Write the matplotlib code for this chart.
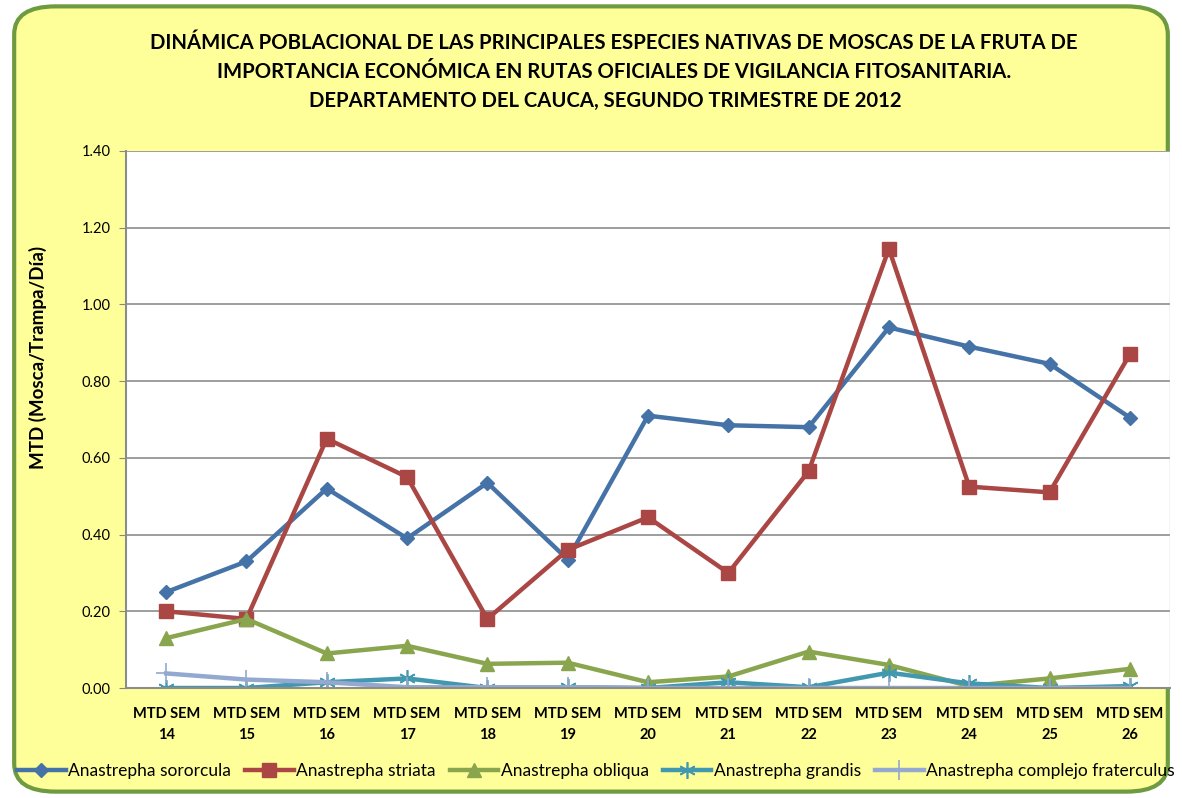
import matplotlib.pyplot as plt
from matplotlib.patches import FancyBboxPatch

semanas = ["MTD SEM\n14", "MTD SEM\n15", "MTD SEM\n16", "MTD SEM\n17", "MTD SEM\n18",
           "MTD SEM\n19", "MTD SEM\n20", "MTD SEM\n21", "MTD SEM\n22", "MTD SEM\n23",
           "MTD SEM\n24", "MTD SEM\n25", "MTD SEM\n26"]

sororcula = [0.25, 0.33, 0.52, 0.39, 0.535, 0.335, 0.71, 0.685, 0.68, 0.94, 0.89, 0.845, 0.705]
striata = [0.20, 0.18, 0.65, 0.55, 0.18, 0.36, 0.445, 0.30, 0.565, 1.145, 0.525, 0.51, 0.87]
obliqua = [0.13, 0.18, 0.09, 0.11, 0.063, 0.066, 0.015, 0.03, 0.095, 0.06, 0.005, 0.025, 0.05]
grandis = [0.0, 0.0, 0.015, 0.025, 0.0, 0.002, 0.0, 0.015, 0.002, 0.04, 0.012, 0.0, 0.005]
fraterculus = [0.038, 0.022, 0.015, 0.002, 0.002, 0.002, 0.0, 0.0, 0.0, 0.0, 0.0, 0.0, 0.0]

plt.rcParams['font.family'] = ['Lato', 'DejaVu Sans']

fig = plt.figure(figsize=(11.82, 7.98), dpi=100)
fig.patch.set_facecolor('white')

# rounded yellow background with green border
bg = FancyBboxPatch((0.012, 0.008), 0.976, 0.984, boxstyle="round,pad=0,rounding_size=0.035",
                    transform=fig.transFigure, facecolor='#FFFF99', edgecolor='#6E9A40',
                    linewidth=3, zorder=-10)
fig.patches.append(bg)

ax = fig.add_axes([126 / 1182, 1 - 688 / 798, (1170 - 126) / 1182, (688 - 151) / 798])
ax.set_facecolor('white')

x = list(range(len(semanas)))
ax.plot(x, sororcula, color='#4572A7', lw=3.2, marker='D', ms=7, label='Anastrepha sororcula')
ax.plot(x, striata, color='#AA4643', lw=3.2, marker='s', ms=10, label='Anastrepha striata')
ax.plot(x, obliqua, color='#89A54E', lw=3.2, marker='^', ms=10, label='Anastrepha obliqua')
ax.plot(x, grandis, color='#4198AF', lw=3.2, marker=(6, 2, 0), ms=12, mew=1.2,
        label='Anastrepha grandis')
ax.plot(x, fraterculus, color='#93A9CF', lw=3.2, marker='+', ms=14, mew=1.2,
        label='Anastrepha complejo fraterculus')

ax.set_xlim(-0.5, len(semanas) - 0.5)
ax.set_ylim(0, 1.4)
ax.set_yticks([0, 0.2, 0.4, 0.6, 0.8, 1.0, 1.2, 1.4])
ax.set_yticklabels([f"{v:.2f}" for v in ax.get_yticks()], fontsize=10.5)
ax.set_xticks(x)
ax.set_xticklabels(semanas, fontsize=10.5, fontweight='bold', linespacing=1.6)
ax.tick_params(axis='x', length=0, pad=14)
ax.tick_params(axis='y', length=5, color='#888888', pad=6)
ax.grid(axis='y', color='#8C8C8C', lw=1.2)
ax.set_axisbelow(True)
for s in ['top', 'right']:
    ax.spines[s].set_visible(False)
ax.spines['left'].set_color('#8C8C8C')
ax.spines['left'].set_linewidth(1.5)
ax.spines['bottom'].set_color('#8C8C8C')
ax.spines['bottom'].set_linewidth(1.5)
ax.axvline(len(semanas) - 0.5, color='#C8C8C8', lw=1)

fig.text(38 / 1182, 1 - 357 / 798, 'MTD (Mosca/Trampa/Día)', rotation=90,
         ha='center', va='center', fontsize=13.5, fontweight='bold')

fig.text(614 / 1182, 1 - 43 / 798, 'DINÁMICA POBLACIONAL DE LAS PRINCIPALES ESPECIES NATIVAS DE MOSCAS DE LA FRUTA DE',
         ha='center', va='center', fontsize=14.6, fontweight='bold')
fig.text(614 / 1182, 1 - 72 / 798, 'IMPORTANCIA ECONÓMICA EN RUTAS OFICIALES DE VIGILANCIA FITOSANITARIA.',
         ha='center', va='center', fontsize=14.6, fontweight='bold')
fig.text(605 / 1182, 1 - 101 / 798, 'DEPARTAMENTO DEL CAUCA, SEGUNDO TRIMESTRE DE 2012',
         ha='center', va='center', fontsize=14.6, fontweight='bold')

fig.legend(loc='center', bbox_to_anchor=(596 / 1182, 1 - 771 / 798), ncol=5, frameon=False,
           fontsize=12.5, handlelength=2.8, handletextpad=0.15, columnspacing=0.8, borderaxespad=0)

fig.savefig('out.png', dpi=100, facecolor='white')
